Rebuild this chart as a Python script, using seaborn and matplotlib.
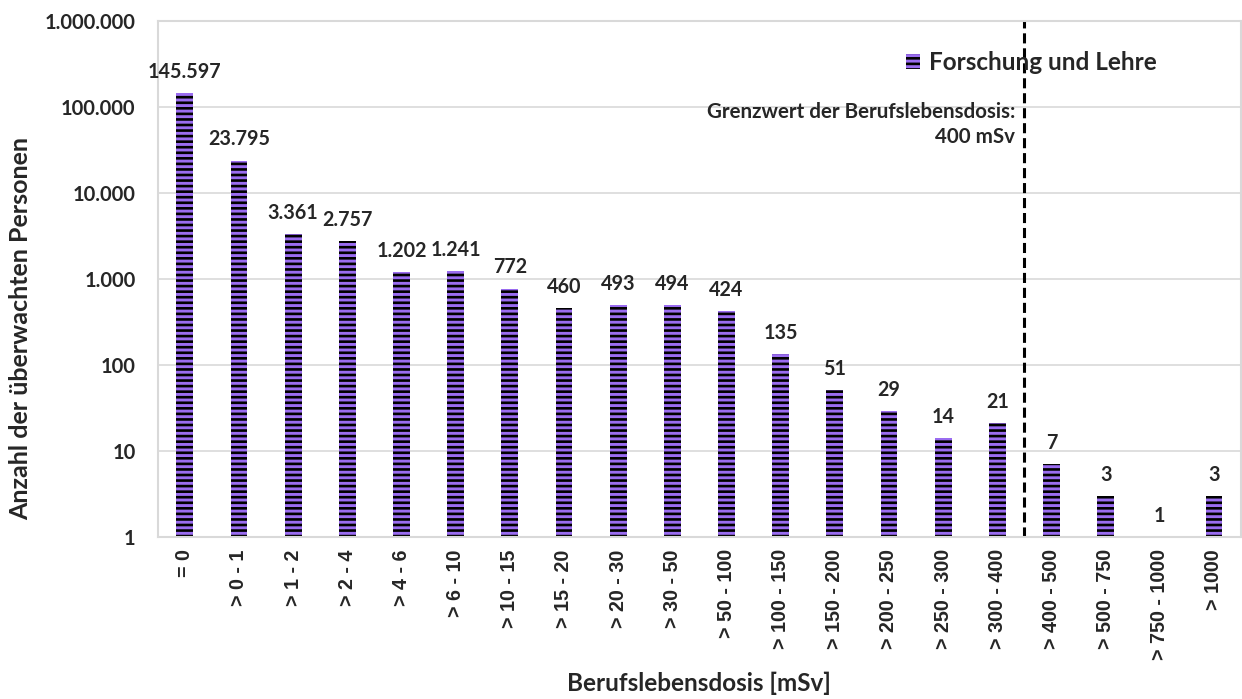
import numpy as np
import pandas as pd
import matplotlib
matplotlib.use("Agg")
import matplotlib.pyplot as plt
import matplotlib.ticker as mticker
import seaborn as sns

# --- data ---
categories = ["= 0", "> 0 - 1", "> 1 - 2", "> 2 - 4", "> 4 - 6", "> 6 - 10",
              "> 10 - 15", "> 15 - 20", "> 20 - 30", "> 30 - 50", "> 50 - 100",
              "> 100 - 150", "> 150 - 200", "> 200 - 250", "> 250 - 300",
              "> 300 - 400", "> 400 - 500", "> 500 - 750", "> 750 - 1000",
              "> 1000"]
counts = [145597, 23795, 3361, 2757, 1202, 1241, 772, 460, 493, 494, 424,
          135, 51, 29, 14, 21, 7, 3, 1, 3]
y_ticks = [1, 10, 100, 1000, 10000, 100000, 1000000]
series_name = "Forschung und Lehre"
limit_text = "Grenzwert der Berufslebensdosis:\n400 mSv"
limit_pos = 15.5   # between "> 300 - 400" and "> 400 - 500"

df = pd.DataFrame({"dose": categories, "count": counts})

sns.set_style("white")
plt.rcParams["font.family"] = ["Lato", "DejaVu Sans"]
plt.rcParams["font.weight"] = "bold"
plt.rcParams["hatch.linewidth"] = 1.9

purple = "#9a6cf0"
grid_grey = "#d9d9d9"

fig, ax = plt.subplots(figsize=(12.42, 6.99), dpi=100)
fig.subplots_adjust(left=0.127, right=0.9992, top=0.970, bottom=0.232)

ax.set_yscale("log")
sns.barplot(data=df, x="dose", y="count", color=purple, width=0.31,
            saturation=1, ax=ax, label=series_name)

for p in ax.patches:
    p.set_hatch("---")
    p.set_edgecolor("black")
    p.set_linewidth(0)

ax.set_ylim(1, 1000000)
ax.set_xlim(-0.5, len(categories) - 0.5)
ax.set_yticks(y_ticks)
ax.yaxis.set_major_formatter(mticker.FuncFormatter(
    lambda v, _: f"{int(round(v)):,}".replace(",", ".")))
ax.yaxis.set_minor_locator(mticker.NullLocator())
ax.grid(axis="y", color=grid_grey, linewidth=1.2)
ax.set_axisbelow(True)

for s in ["top", "right", "left", "bottom"]:
    ax.spines[s].set_color(grid_grey)
    ax.spines[s].set_linewidth(1.5)

ax.tick_params(axis="y", labelsize=14.5, length=0, pad=16)
ax.tick_params(axis="x", length=0, pad=9)
for lbl in ax.get_yticklabels():
    lbl.set_fontweight("bold")
ax.set_xticks(range(len(categories)))
ax.set_xticklabels(categories, rotation=90, fontsize=14.2, fontweight="bold",
                   family="Liberation Sans")

# value labels above the bars
for i, v in enumerate(counts):
    ax.annotate(f"{v:,}".replace(",", "."), (i, v), xytext=(0, 8),
                textcoords="offset points", ha="center", va="bottom",
                fontsize=14.2, fontweight="bold")

# limit of the occupational lifetime dose
ax.axvline(limit_pos, color="black", linestyle=(0, (3.3, 1.6)), linewidth=2.2)
ax.text(limit_pos - 0.17, 0.843, limit_text, transform=ax.get_xaxis_transform(),
        ha="right", va="top", fontsize=14.8, fontweight="bold",
        linespacing=1.3)

ax.set_xlabel("Berufslebensdosis [mSv]", fontsize=17.5, fontweight="bold",
              labelpad=8)
ax.set_ylabel("Anzahl der überwachten Personen", fontsize=18,
              fontweight="bold")
ax.yaxis.set_label_coords(-0.116, 0.403)

ax.legend(loc="center right", bbox_to_anchor=(0.942, 0.919), frameon=False,
          prop={"size": 17.5, "weight": "bold"}, handlelength=0.57,
          handleheight=0.57, handletextpad=0.35, borderpad=0.4)

fig.savefig("out.png", dpi=100)
